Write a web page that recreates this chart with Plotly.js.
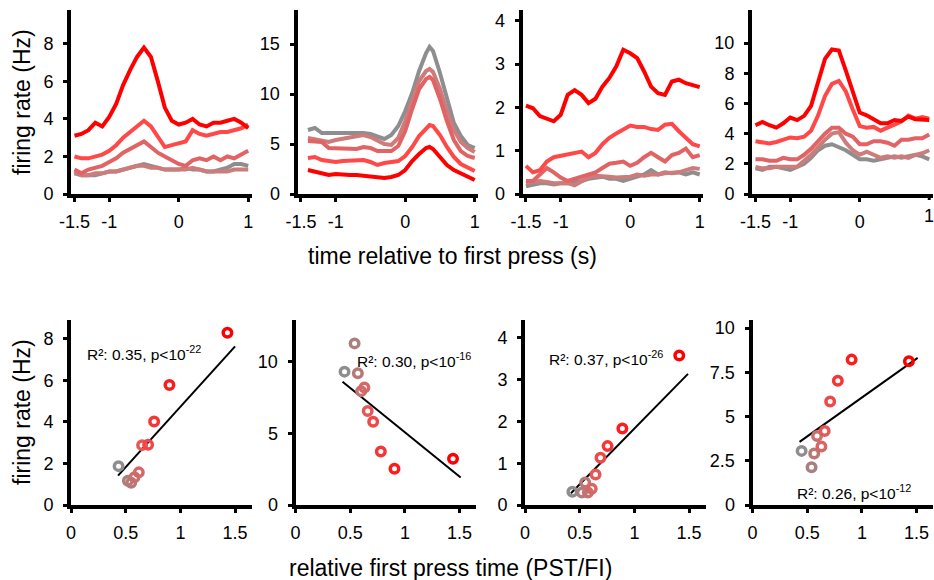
<!DOCTYPE html>
<html><head><meta charset="utf-8">
<script src="https://cdn.plot.ly/plotly-3.0.1.min.js"></script>
<style>html,body{margin:0;padding:0;background:#fff}#chart{width:934px;height:580px}</style>
</head><body><div id="chart"></div>
<script>
// ---------- DATA ----------
// time axis (s) for top panels
const timeA = [-1.5,-1.4,-1.3,-1.2,-1.1,-1.0,-0.9,-0.8,-0.7,-0.6,-0.5,-0.4,-0.3,-0.2,-0.1,0.0,0.1,0.2,0.3,0.4,0.5,0.6,0.7,0.8,0.9,1.0];
const timeB = [-1.4,-1.3,-1.2,-1.1,-1.0,-0.9,-0.8,-0.7,-0.6,-0.5,-0.4,-0.3,-0.2,-0.1,0.0,0.1,0.2,0.3,0.35,0.4,0.5,0.6,0.7,0.8,0.9,1.0];

// Panel 1 firing rates (Hz): gray, rosy, medium, light red, red
const p1Gray  = [1.1,1.0,1.0,1.0,1.1,1.2,1.2,1.3,1.4,1.5,1.6,1.5,1.4,1.3,1.3,1.3,1.4,1.3,1.3,1.2,1.2,1.3,1.4,1.6,1.6,1.5];
const p1Rosy  = [1.2,1.0,1.0,1.1,1.1,1.2,1.2,1.3,1.4,1.5,1.5,1.4,1.4,1.3,1.3,1.3,1.3,1.4,1.3,1.2,1.2,1.2,1.2,1.3,1.3,1.3];
const p1Med   = [1.3,1.1,1.3,1.4,1.5,1.7,1.9,2.2,2.4,2.6,2.8,2.5,2.2,2.0,1.8,1.6,1.5,1.8,1.9,1.8,2.0,1.8,2.0,1.9,2.1,2.3];
const p1Light = [2.0,1.9,1.9,2.0,2.1,2.3,2.6,3.0,3.3,3.6,3.9,3.6,3.0,2.5,2.6,2.7,2.8,3.4,3.2,3.1,3.2,3.3,3.3,3.4,3.5,3.7];
const p1Red   = [3.1,3.2,3.4,3.8,3.6,4.1,4.8,5.8,6.6,7.3,7.8,7.3,6.0,4.6,3.9,3.7,3.8,4.0,3.7,3.6,3.8,3.8,3.9,4.0,3.8,3.5];

// Panel 2
const p2Gray  = [6.4,6.6,6.1,6.1,6.2,6.2,6.2,6.1,6.1,6.0,5.8,5.5,5.9,6.8,8.3,10.1,12.3,14.1,14.7,14.3,12.1,9.4,7.1,5.8,4.9,4.6];
const p2Rosy  = [5.6,5.5,5.4,5.2,5.4,5.5,5.6,5.8,5.9,5.7,5.4,5.0,4.9,5.6,7.3,9.3,11.3,12.3,12.5,12.2,10.5,8.3,6.4,5.2,4.6,4.2];
const p2Med   = [5.3,5.2,5.2,4.6,4.6,4.5,4.6,4.5,4.7,4.6,4.3,4.3,4.3,4.8,6.3,8.5,10.5,11.5,11.7,11.4,9.5,7.3,5.4,4.3,3.8,3.6];
const p2Light = [3.6,3.7,3.4,3.3,3.2,3.3,3.3,3.3,3.4,3.2,2.9,3.1,3.2,3.3,3.8,4.7,5.8,6.6,6.9,6.8,5.9,4.7,3.7,3.0,2.6,2.3];
const p2Red   = [2.4,2.2,2.1,1.9,2.0,1.9,1.9,1.9,1.8,1.8,1.7,1.6,1.7,1.9,2.4,3.3,4.0,4.6,4.7,4.5,3.7,2.9,2.4,2.1,1.7,1.4];

// Panel 3
const p3Gray  = [0.18,0.22,0.25,0.25,0.22,0.25,0.25,0.28,0.30,0.35,0.38,0.40,0.35,0.35,0.30,0.35,0.40,0.45,0.55,0.45,0.50,0.48,0.50,0.45,0.50,0.45];
const p3Rosy  = [0.25,0.28,0.30,0.28,0.25,0.25,0.25,0.20,0.30,0.38,0.42,0.42,0.40,0.38,0.38,0.40,0.45,0.42,0.45,0.45,0.48,0.50,0.50,0.55,0.60,0.58];
const p3Med   = [0.30,0.30,0.45,0.60,0.50,0.38,0.30,0.35,0.40,0.45,0.50,0.60,0.70,0.72,0.75,0.65,0.72,0.85,0.95,0.85,0.75,0.90,0.95,1.05,0.85,0.90];
const p3Light = [0.65,0.50,0.55,0.75,0.85,0.88,0.92,0.95,0.98,0.85,0.95,1.15,1.30,1.40,1.50,1.58,1.55,1.55,1.50,1.48,1.60,1.62,1.45,1.30,1.15,1.10];
const p3Red   = [2.04,1.98,1.80,1.75,1.68,1.83,2.29,2.40,2.29,2.10,2.20,2.48,2.68,2.95,3.33,3.25,3.14,2.83,2.48,2.33,2.29,2.60,2.64,2.56,2.52,2.47];

// Panel 4
const p4Gray  = [1.7,1.6,1.8,1.8,1.7,1.6,1.8,2.0,2.4,2.9,3.2,3.3,3.1,2.9,2.6,2.3,2.3,2.2,2.3,2.4,2.5,2.4,2.5,2.6,2.5,2.3];
const p4Rosy  = [1.8,1.7,1.7,1.8,1.8,1.8,1.8,2.2,2.6,3.1,3.6,4.0,4.1,3.4,2.9,2.6,2.8,2.6,2.4,2.5,2.4,2.5,2.4,2.6,2.7,2.9];
const p4Med   = [2.3,2.3,2.2,2.2,2.4,2.3,2.3,2.6,3.0,3.5,4.0,4.4,4.4,4.0,3.8,3.3,3.3,3.5,3.5,3.4,3.2,3.6,3.6,3.7,3.7,3.95];
const p4Light = [3.5,3.4,3.35,3.45,3.6,3.75,3.7,3.8,4.2,5.2,6.5,7.3,7.5,6.8,5.6,4.5,4.4,4.45,4.2,4.4,4.6,4.8,5.2,5.0,5.1,5.0];
const p4Red   = [4.56,4.78,4.56,4.4,4.69,5.07,4.9,5.18,5.84,7.5,8.96,9.58,9.51,8.18,6.73,5.4,5.22,4.96,4.69,4.69,4.91,4.84,5.13,4.96,4.96,4.91];

// Bottom scatter: relative first press time (PST/FI) vs firing rate (Hz)
const s1X = [0.435,0.52,0.55,0.58,0.62,0.65,0.705,0.76,0.90,1.43];
const s1Y = [1.87,1.17,1.07,1.33,1.57,2.88,2.90,4.02,5.77,8.29];
const s2X = [0.448,0.54,0.57,0.60,0.63,0.66,0.71,0.78,0.905,1.44];
const s2Y = [9.30,11.27,9.19,7.94,8.20,6.55,5.81,3.73,2.52,3.22];
const s3X = [0.433,0.52,0.55,0.575,0.61,0.645,0.69,0.755,0.89,1.41];
const s3Y = [0.32,0.30,0.54,0.30,0.39,0.73,1.13,1.41,1.83,3.58];
const s4X = [0.449,0.54,0.564,0.59,0.63,0.66,0.71,0.78,0.906,1.43];
const s4Y = [3.06,2.14,2.91,3.90,3.31,4.19,5.85,7.02,8.22,8.13];

// Regression fit line endpoints
const f1X = [0.43,1.50], f1Y = [1.41,7.63];
const f2X = [0.43,1.51], f2Y = [8.60,1.92];
const f3X = [0.42,1.49], f3Y = [0.28,3.14];
const f4X = [0.43,1.51], f4Y = [3.57,8.32];

const statLabels = [
  'R²: 0.35, p&lt;10<sup>-22</sup>',
  'R²: 0.30, p&lt;10<sup>-16</sup>',
  'R²: 0.37, p&lt;10<sup>-26</sup>',
  'R²: 0.26, p&lt;10<sup>-12</sup>'
];
const timeTicks = [-1.5,-1,0,1];
const timeTickText = ['-1.5','-1','0','1'];
const ratioTicks = [0,0.5,1,1.5];
const ratioTickText = ['0','0.5','1','1.5'];

// ---------- STYLE ----------
const W = 934, H = 580;
const lineColors = ['#8e8e8e','#cd7b7b','#e26363','#ff4848','#ff0000'];
const ptColors = ['#8e8e8e','#a88080','#b87878','#c87070','#d86666','#e65858','#f04848','#f83434','#fc1c1c','#ff0000'];
const font = 'Liberation Sans, Arial, Helvetica, sans-serif';

const topSeries = [
  [timeA,[p1Gray,p1Rosy,p1Med,p1Light,p1Red]],
  [timeB,[p2Gray,p2Rosy,p2Med,p2Light,p2Red]],
  [timeA,[p3Gray,p3Rosy,p3Med,p3Light,p3Red]],
  [timeA,[p4Gray,p4Rosy,p4Med,p4Light,p4Red]]
];
const scat = [[s1X,s1Y,f1X,f1Y],[s2X,s2Y,f2X,f2Y],[s3X,s3Y,f3X,f3Y],[s4X,s4Y,f4X,f4Y]];

const topLeft = [71, 297.5, 522.5, 752], topW = 180.7;
const topYr = [[0,9.8],[0,18.4],[0,4.25],[0,12.2]];
const topYt = [[0,2,4,6,8],[0,5,10,15],[0,1,2,3,4],[0,2,4,6,8,10]];
const botLeft = [71, 295.5, 525, 752.5], botW = 180.5;
const botYr = [[0,8.9],[0,12.9],[0,4.43],[0,10.46]];
const botYt = [[0,2,4,6,8],[0,5,10],[0,1,2,3,4],[0,2.5,5,7.5,10]];
const botYtt = [['0','2','4','6','8'],['0','5','10'],['0','1','2','3','4'],['0','2.5','5','7.5','10']];

const data = [];
const layout = {
  width: W, height: H, margin:{l:0,r:0,t:0,b:0},
  paper_bgcolor:'#fff', plot_bgcolor:'#fff', showlegend:false,
  font:{family:font, size:18, color:'#000'},
  annotations:[]
};
function axisCommon(){
  return {showline:true, linewidth:4, linecolor:'#000', ticks:'outside', ticklen:4, tickwidth:3,
    tickcolor:'#000', showgrid:false, zeroline:false, fixedrange:true, ticklabeloverflow:'allow',
    tickfont:{family:font,size:18,color:'#000'}};
}
for(let i=0;i<4;i++){
  const n = i+1;
  const xa = 'xaxis'+(n===1?'':n), ya = 'yaxis'+(n===1?'':n);
  layout[xa] = Object.assign(axisCommon(), {domain:[topLeft[i]/W,(topLeft[i]+topW)/W], range:[-1.55,1.05],
    tickvals:timeTicks, ticktext:timeTickText, anchor:'y'+(n===1?'':n), ticklabelstandoff:4});
  layout[ya] = Object.assign(axisCommon(), {domain:[1-194/H,1-10/H], range:topYr[i], tickvals:topYt[i],
    anchor:'x'+(n===1?'':n), ticklabelstandoff:6});
  const [t, ser] = topSeries[i];
  ser.forEach((s,k)=>{
    data.push({type:'scatter', mode:'lines', x:t, y:s, xaxis:'x'+(n===1?'':n), yaxis:'y'+(n===1?'':n),
      line:{color:lineColors[k], width:4}, hoverinfo:'skip'});
  });
}
// last top panel: the edge label "1" is placed as an annotation at x = 1 (Plotly hides it at the div edge)
layout.xaxis4.tickvals = timeTicks.slice(0,3);
layout.xaxis4.ticktext = timeTickText.slice(0,3);
layout.annotations.push({text:timeTickText[3], xref:'x4', yref:'paper', x:timeTicks[3], y:1-216/H,
  xanchor:'center', yanchor:'middle', showarrow:false, font:{family:font,size:18,color:'#000'}});
layout.shapes = [{type:'line', xref:'x4', yref:'paper', x0:timeTicks[3], x1:timeTicks[3],
  y0:1-194/H, y1:1-200/H, line:{color:'#000', width:3}}];

for(let i=0;i<4;i++){
  const n = i+5;
  layout['xaxis'+n] = Object.assign(axisCommon(), {domain:[botLeft[i]/W,(botLeft[i]+botW)/W], range:[0,1.65],
    tickvals:ratioTicks, ticktext:ratioTickText, anchor:'y'+n, ticklabelstandoff:4});
  layout['yaxis'+n] = Object.assign(axisCommon(), {domain:[1-505/H,1-320/H], range:botYr[i], tickvals:botYt[i],
    ticktext:botYtt[i], anchor:'x'+n, ticklabelstandoff:6});
  const [sx,sy,fx,fy] = scat[i];
  data.push({type:'scatter', mode:'lines', x:fx, y:fy, xaxis:'x'+n, yaxis:'y'+n,
    line:{color:'#000', width:2}, hoverinfo:'skip'});
  data.push({type:'scatter', mode:'markers', x:sx, y:sy, xaxis:'x'+n, yaxis:'y'+n,
    marker:{symbol:'circle-open', size:8.5, color:ptColors, line:{width:3.5, color:ptColors}}, hoverinfo:'skip'});
}
const statPos = [[85,353],[355,360],[547,358],[795,492]];
statLabels.forEach((s,i)=>{
  layout.annotations.push({text:s, xref:'paper', yref:'paper', x:statPos[i][0]/W, y:1-statPos[i][1]/H,
    xanchor:'left', yanchor:'middle', showarrow:false, font:{family:font, size:15.5, color:'#000'}});
});
layout.annotations.push({text:'firing rate (Hz)', xref:'paper', yref:'paper', x:22/W, y:1-102/H, textangle:-90,
  xanchor:'center', yanchor:'middle', showarrow:false, font:{family:font,size:23,color:'#000'}});
layout.annotations.push({text:'firing rate (Hz)', xref:'paper', yref:'paper', x:22/W, y:1-412/H, textangle:-90,
  xanchor:'center', yanchor:'middle', showarrow:false, font:{family:font,size:23,color:'#000'}});
layout.annotations.push({text:'time relative to first press (s)', xref:'paper', yref:'paper', x:452/W, y:1-256/H,
  xanchor:'center', yanchor:'middle', showarrow:false, font:{family:font,size:23,color:'#000'}});
layout.annotations.push({text:'relative first press time (PST/FI)', xref:'paper', yref:'paper', x:450/W, y:1-568/H,
  xanchor:'center', yanchor:'middle', showarrow:false, font:{family:font,size:23,color:'#000'}});

Plotly.newPlot('chart', data, layout, {displayModeBar:false, staticPlot:true});
</script>
</body></html>
